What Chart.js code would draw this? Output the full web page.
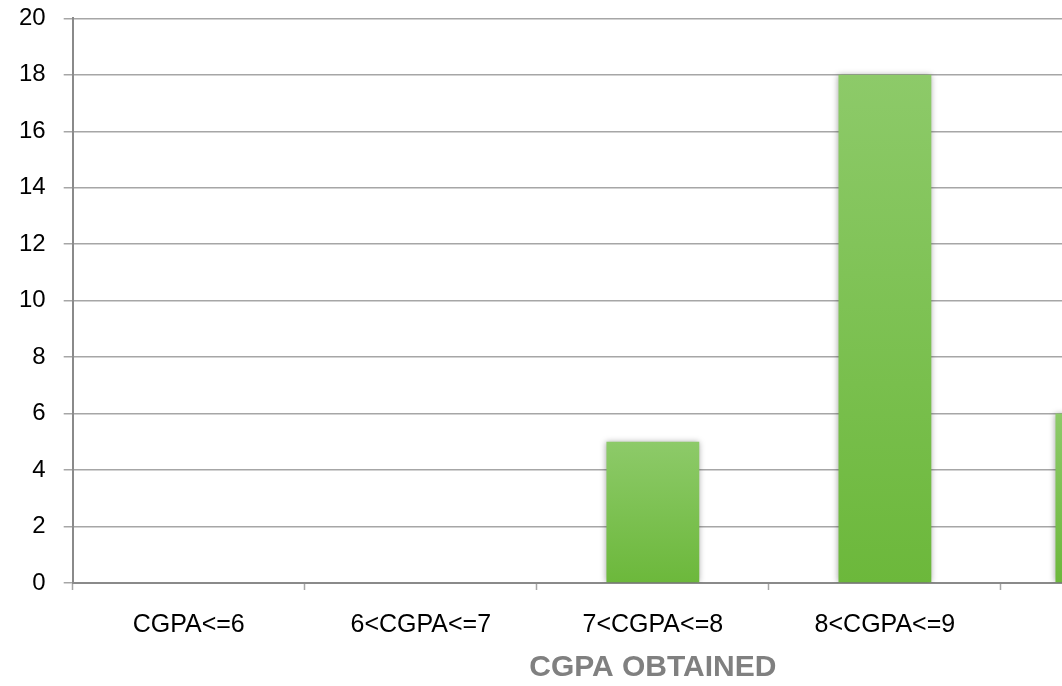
<!DOCTYPE html>
<html>
<head>
<meta charset="utf-8">
<script src="https://cdn.jsdelivr.net/npm/chart.js@4"></script>
<style>
  html, body { margin: 0; padding: 0; background: #fff; overflow: hidden; }
  #wrap { width: 1062px; height: 686px; overflow: hidden; position: relative; }
  #cgpaChart { position: absolute; left: 0; top: -14px; }
</style>
</head>
<body>
<div id="wrap"><canvas id="cgpaChart" width="1240" height="697"></canvas></div>
<script>
const categories = ['CGPA<=6', '6<CGPA<=7', '7<CGPA<=8', '8<CGPA<=9', 'CGPA>9'];
const students = [0, 0, 5, 18, 6];
const yTicks = [0, 2, 4, 6, 8, 10, 12, 14, 16, 18, 20];
const xTitle = 'CGPA OBTAINED';

// last bar sits a little wider in the original, so it goes in its own dataset
const mainBars = students.map((v, i) => i < students.length - 1 ? v : null);
const lastBar = students.map((v, i) => i === students.length - 1 ? v : null);

function barGradient(context) {
    const chart = context.chart;
    const area = chart.chartArea;
    if (!area || context.raw == null) return '#7cc453';
    const top = chart.scales.y.getPixelForValue(context.raw);
    const g = chart.ctx.createLinearGradient(0, top, 0, area.bottom);
    g.addColorStop(0, '#8dca69');
    g.addColorStop(1, '#6cb83b');
    return g;
}

const barShadow = {
    id: 'barShadow',
    beforeDatasetsDraw(chart) {
        const ctx = chart.ctx;
        ctx.save();
        ctx.shadowColor = 'rgba(0,0,0,0.35)';
        ctx.shadowBlur = 6;
    },
    afterDatasetsDraw(chart) {
        chart.ctx.restore();
    }
};

const ctx = document.getElementById('cgpaChart').getContext('2d');
const cgpaChart = new Chart(ctx, {
    type: 'bar',
    data: {
        labels: categories,
        datasets: [{
            label: 'Students',
            data: mainBars,
            backgroundColor: barGradient,
            borderWidth: 0,
            grouped: false,
            categoryPercentage: 1,
            barPercentage: 0.4
        }, {
            label: 'Students',
            data: lastBar,
            backgroundColor: barGradient,
            borderWidth: 0,
            grouped: false,
            categoryPercentage: 1,
            barPercentage: 0.53
        }]
    },
    plugins: [barShadow],
    options: {
        responsive: false,
        animation: false,
        layout: {
            padding: { left: 1, top: 0, right: 7, bottom: 0 }
        },
        plugins: {
            legend: { display: false },
            tooltip: { enabled: false }
        },
        scales: {
            x: {
                grid: {
                    offset: true,
                    drawOnChartArea: false,
                    tickLength: 7,
                    tickColor: '#a6a6a6',
                    tickWidth: 1.5
                },
                border: { color: '#8a8a8a', width: 2 },
                ticks: {
                    color: '#000',
                    padding: 20,
                    maxRotation: 0,
                    font: { family: '"Liberation Sans", Arial, sans-serif', size: 25 }
                },
                title: {
                    display: true,
                    text: xTitle,
                    color: '#808080',
                    padding: { top: -7, bottom: 0 },
                    font: { family: '"Liberation Sans", Arial, sans-serif', size: 30, weight: 'bold', lineHeight: 1 }
                }
            },
            y: {
                min: 0,
                max: 20,
                afterBuildTicks(scale) {
                    scale.ticks = yTicks.map(v => ({ value: v }));
                },
                grid: {
                    color: '#a6a6a6',
                    lineWidth: 1.5,
                    tickLength: 9
                },
                border: { color: '#8a8a8a', width: 2 },
                ticks: {
                    color: '#000',
                    padding: 18,
                    font: { family: '"Liberation Sans", Arial, sans-serif', size: 24 }
                }
            }
        }
    }
});
</script>
</body>
</html>
